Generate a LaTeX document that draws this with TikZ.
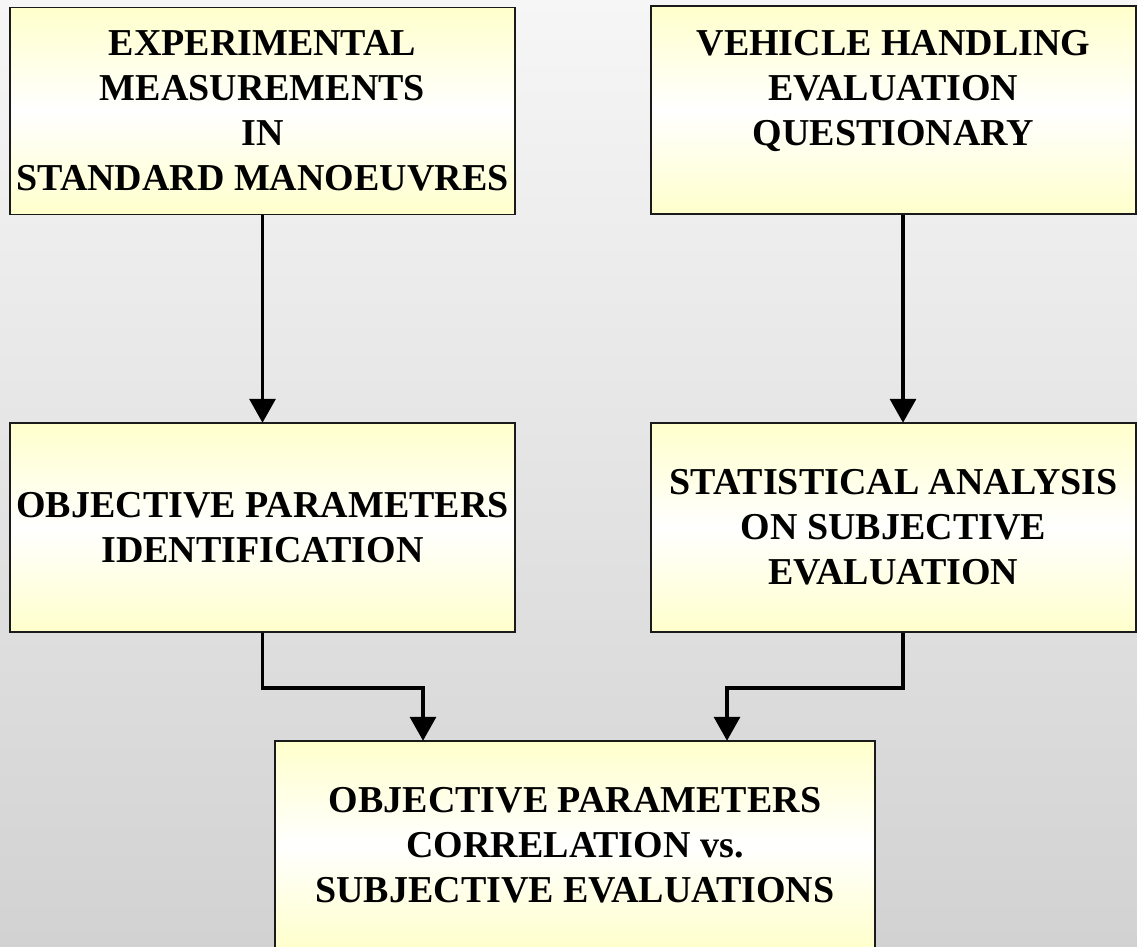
\documentclass[tikz,border=0pt]{standalone}
\usepackage{fontspec}
\setmainfont{Liberation Serif}
\usetikzlibrary{arrows.meta,calc}
\definecolor{boxyellow}{HTML}{FFFFCC}
\definecolor{bgtop}{HTML}{F6F6F6}
\definecolor{bgbot}{HTML}{D2D2D2}
\definecolor{boxline}{HTML}{1A1A1A}
\tikzset{
  flowbox/.style={draw=boxline, line width=1.5pt, rectangle, inner sep=0pt,
    top color=boxyellow, bottom color=boxyellow, middle color=white,
    align=center, font=\bfseries\fontsize{38}{45}\selectfont},
  conn/.style={line width=3.5pt, draw=black,
    -{Triangle[width=26pt,length=24pt]}, shorten >=-0.5pt}
}
\begin{document}
\begin{tikzpicture}[x=1pt,y=-1pt]
\useasboundingbox (0,0) rectangle (1137,946);
\clip (0,0) rectangle (1137,946);
\shade[top color=bgtop, bottom color=bgbot] (0,0) rectangle (1137,946);

\node[flowbox, minimum width=505pt, minimum height=207pt] (b1) at (262.5,111)
  {EXPERIMENTAL\\MEASUREMENTS\\IN\\STANDARD MANOEUVRES};
\node[flowbox, minimum width=485pt, minimum height=208pt] (b2) at (893.5,110)
  {VEHICLE HANDLING\\EVALUATION\\QUESTIONARY\\\mbox{}};
\node[flowbox, minimum width=505pt, minimum height=209pt] (b3) at (262.5,527.5)
  {OBJECTIVE PARAMETERS\\IDENTIFICATION};
\node[flowbox, minimum width=485pt, minimum height=209pt] (b4) at (893.5,527.5)
  {STATISTICAL ANALYSIS\\ON SUBJECTIVE\\EVALUATION};
\node[flowbox, minimum width=600pt, minimum height=208pt] (b5) at (575,845)
  {OBJECTIVE PARAMETERS\\CORRELATION vs.\\SUBJECTIVE EVALUATIONS};

\draw[conn] (b1.south) -- (b3.north);
\draw[conn] ([xshift=9.5pt]b2.south) -- ([xshift=9.5pt]b4.north);
\draw[conn] (b3.south) -- ++(0,55) coordinate (k1) -| ([xshift=-152pt]b5.north);
\draw[conn] ([xshift=9.5pt]b4.south) -- ++(0,55) coordinate (k2) -| ([xshift=152pt]b5.north);
\end{tikzpicture}
\end{document}
